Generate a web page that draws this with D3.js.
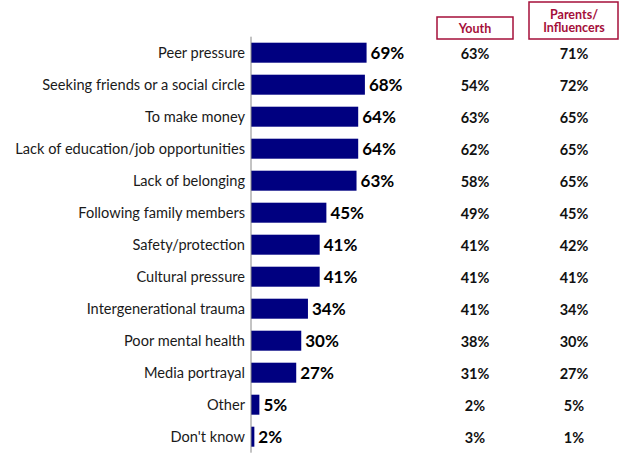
<!DOCTYPE html>
<html>
<head>
<meta charset="utf-8">
<script src="https://cdn.jsdelivr.net/npm/d3@7"></script>
<style>
  body { margin: 0; background: #fff; }
  text { font-family: Lato, "Open Sans", sans-serif; }
</style>
</head>
<body>
<svg width="624" height="468"></svg>
<script>
const categories = [
  "Peer pressure",
  "Seeking friends or a social circle",
  "To make money",
  "Lack of education/job opportunities",
  "Lack of belonging",
  "Following family members",
  "Safety/protection",
  "Cultural pressure",
  "Intergenerational trauma",
  "Poor mental health",
  "Media portrayal",
  "Other",
  "Don't know"
];
const total = [69, 68, 64, 64, 63, 45, 41, 41, 34, 30, 27, 5, 2];
const youth = [63, 54, 63, 62, 58, 49, 41, 41, 41, 38, 31, 2, 3];
const parents = [71, 72, 65, 65, 65, 45, 42, 41, 34, 30, 27, 5, 1];
const columns = ["Youth", "Parents/\nInfluencers"];

const svg = d3.select("svg");
const barColor = "#000080";
const red = "#a50f3a";

const x = d3.scaleLinear().domain([0, 100]).range([251, 418.5]);
const y = d3.scaleBand().domain(categories).range([36.7, 452.7]).paddingInner(0.375).paddingOuter(0.1875);

// category labels
svg.append("g")
  .selectAll("text")
  .data(categories)
  .join("text")
  .attr("x", 245)
  .attr("y", (d) => y(d) + y.bandwidth() / 2)
  .attr("dy", "0.35em")
  .attr("text-anchor", "end")
  .attr("font-size", 14.6)
  .attr("fill", "#1a1a1a")
  .text((d) => d);

// bars
svg.append("g")
  .selectAll("rect")
  .data(total)
  .join("rect")
  .attr("x", x(0))
  .attr("y", (d, i) => y(categories[i]))
  .attr("width", (d) => x(d) - x(0))
  .attr("height", y.bandwidth())
  .attr("fill", barColor);

// axis line
svg.append("line")
  .attr("x1", x(0)).attr("x2", x(0))
  .attr("y1", y.range()[0]).attr("y2", y.range()[1])
  .attr("stroke", "#888")
  .attr("stroke-width", 1);

// bar value labels
svg.append("g")
  .selectAll("text")
  .data(total)
  .join("text")
  .attr("x", (d) => x(d) + 4)
  .attr("y", (d, i) => y(categories[i]) + y.bandwidth() / 2)
  .attr("dy", "0.36em")
  .attr("font-size", 17)
  .attr("font-weight", "bold")
  .attr("fill", "#000")
  .text((d) => d + "%");

// side columns
const colX = [475, 574];
[youth, parents].forEach((vals, c) => {
  svg.append("g")
    .selectAll("text")
    .data(vals)
    .join("text")
    .attr("x", colX[c])
    .attr("y", (d, i) => y(categories[i]) + y.bandwidth() / 2 + 1)
    .attr("dy", "0.36em")
    .attr("text-anchor", "middle")
    .attr("font-size", 14.5)
    .attr("font-weight", "bold")
    .attr("fill", "#111")
    .text((d) => d + "%");
});

// header boxes
const boxes = [
  { x0: 437, x1: 513, y0: 17, y1: 39 },
  { x0: 529, x1: 618, y0: 2, y1: 39 }
];
boxes.forEach((b, c) => {
  svg.append("rect")
    .attr("x", b.x0).attr("y", b.y0)
    .attr("width", b.x1 - b.x0).attr("height", b.y1 - b.y0)
    .attr("fill", "#fff")
    .attr("stroke", red)
    .attr("stroke-width", 1.5);
  const lines = columns[c].split("\n");
  const cy = (b.y0 + b.y1) / 2 + 0.5;
  svg.append("text")
    .attr("text-anchor", "middle")
    .attr("font-size", 12.5)
    .attr("font-weight", "bold")
    .attr("fill", red)
    .selectAll("tspan")
    .data(lines)
    .join("tspan")
    .attr("x", colX[c])
    .attr("y", (d, i) => cy + (i - (lines.length - 1) / 2) * 13.5)
    .attr("dy", "0.36em")
    .text((d) => d);
});
</script>
</body>
</html>
